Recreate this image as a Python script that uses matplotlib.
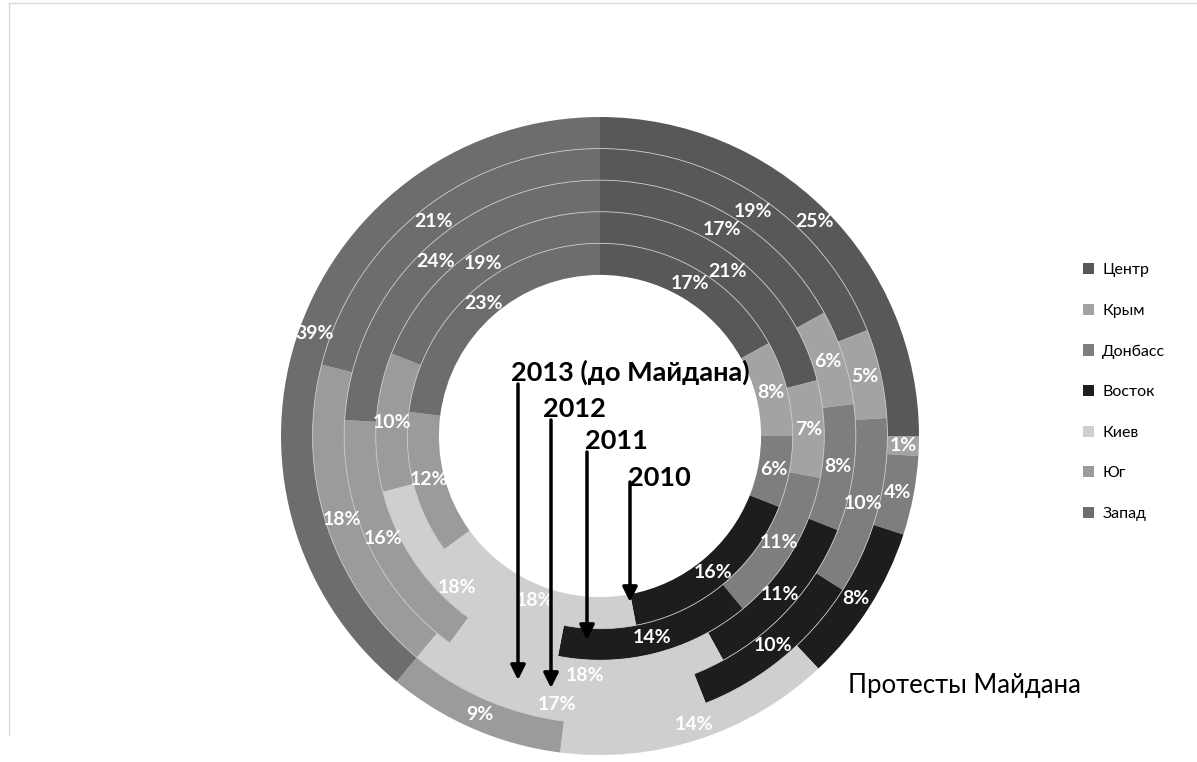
import matplotlib
matplotlib.use("Agg")
import matplotlib.pyplot as plt
from matplotlib.lines import Line2D
from matplotlib.patches import Circle
import numpy as np

plt.rcParams['font.family'] = ['Lato', 'DejaVu Sans']

# regions, clockwise from 12 o'clock
regions = ['Центр', 'Крым', 'Донбасс', 'Восток', 'Киев', 'Юг', 'Запад']
colors = ['#585858', '#a3a3a3', '#7e7e7e', '#1d1d1d', '#cfcfcf', '#9b9b9b', '#6d6d6d']

# share of protests by region, %, one ring per period (inner -> outer)
y2010 = [17, 8, 6, 16, 18, 12, 23]
y2011 = [21, 7, 11, 14, 18, 10, 19]
y2012 = [17, 6, 8, 11, 18, 16, 24]
y2013 = [19, 5, 10, 10, 17, 18, 21]
maidan = [25, 1, 4, 8, 14, 9, 39]
rings = [y2010, y2011, y2012, y2013, maidan]

W, H = 1197, 762
fig = plt.figure(figsize=(W / 100, H / 100), dpi=100)
cx, cy, R = 600, 436, 319
ax = fig.add_axes([(cx - R) / W, (H - cy - R) / H, 2 * R / W, 2 * R / H])

hole = 0.505
w = (1 - hole) / len(rings)
first = None
for i, vals in enumerate(rings):
    r_out = hole + (i + 1) * w
    wedges, _ = ax.pie(vals, radius=r_out, colors=colors, startangle=90,
                       counterclock=False,
                       wedgeprops=dict(width=w, edgecolor='none'))
    if first is None:
        first = wedges
    if i < len(rings) - 1:
        ax.add_patch(Circle((0, 0), r_out, fill=False, edgecolor='#c8c8c8',
                            lw=0.6, zorder=3))
    rm = r_out - w / 2
    for wd, v in zip(wedges, vals):
        ang = np.deg2rad((wd.theta1 + wd.theta2) / 2)
        ax.text(rm * np.cos(ang), rm * np.sin(ang), f'{v}%', color='white',
                fontsize=14, fontweight='bold', ha='center', va='center', zorder=4)

# pie() resets the limits, so fix them afterwards
ax.set_xlim(-1, 1)
ax.set_ylim(-1, 1)
ax.set_aspect('equal')
ax.axis('off')

# period labels with arrows pointing into the rings
def px(x, y):
    return (x - cx) / R, (cy - y) / R

notes = [('2013 (до Майдана)', 511, 381, 518, 384, 680),
         ('2012', 543, 417, 551, 420, 688),
         ('2011', 585, 449, 587, 452, 640),
         ('2010', 628, 486, 630, 482, 602)]
for txt, tx, ty, ax_x, y0, y1 in notes:
    ax.text(*px(tx, ty), txt, fontsize=19.5, fontweight='bold', color='black',
            ha='left', va='baseline', zorder=5)
    ax.annotate('', xy=px(ax_x, y1), xytext=px(ax_x, y0), zorder=5,
                arrowprops=dict(arrowstyle='-|>', color='black', lw=2.5,
                                mutation_scale=22, shrinkA=0, shrinkB=0))

fig.text(848 / W, 1 - 686 / H, 'Протесты Майдана', fontsize=18.5, color='black',
         ha='left', va='center')

fig.legend(first, regions, loc='center left', bbox_to_anchor=(1075 / W, 1 - 392 / H),
           frameon=False, fontsize=11.5, handlelength=0.7, handleheight=0.7,
           handletextpad=0.5, labelspacing=1.65, borderpad=0)

# chart area border (top and left edges visible)
fig.add_artist(Line2D([9 / W, 1], [1 - 3 / H, 1 - 3 / H], color='#d9d9d9', lw=1))
fig.add_artist(Line2D([9 / W, 9 / W], [1 - 3 / H, 1 - 735 / H], color='#d9d9d9', lw=1))

fig.savefig('out.png', dpi=100)
